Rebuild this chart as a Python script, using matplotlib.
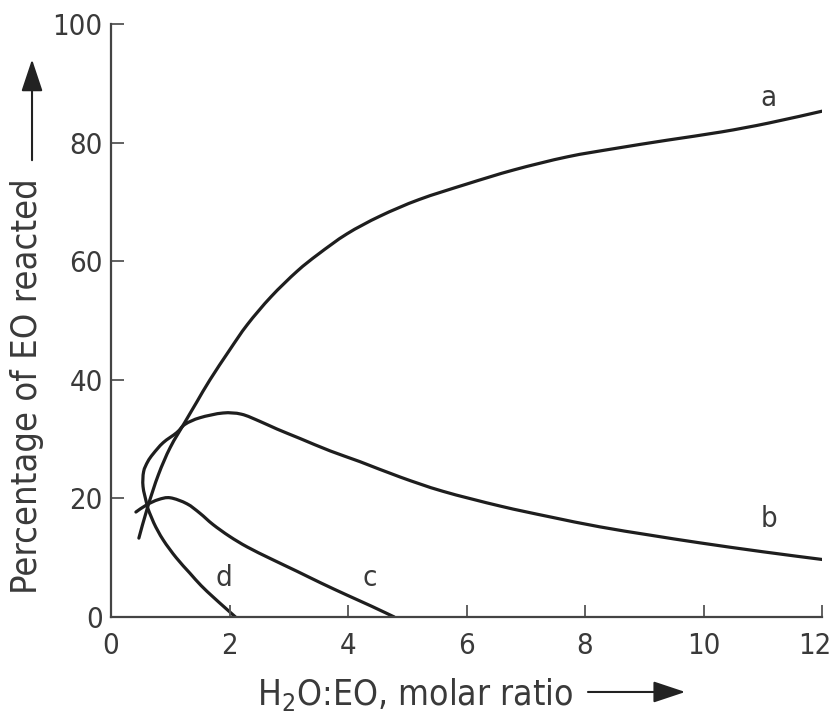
import matplotlib
matplotlib.use("Agg")
import matplotlib.pyplot as plt
from matplotlib.path import Path
from matplotlib.patches import PathPatch, FancyArrowPatch
from matplotlib.transforms import ScaledTranslation

plt.rcParams['font.family'] = ['Liberation Sans Narrow', 'DejaVu Sans']
plt.rcParams['font.stretch'] = 'condensed'

# curve data (H2O:EO ratio, % EO reacted)
a_x = [0.47, 0.62, 0.8, 1.0, 1.25, 1.45, 1.67, 2.0, 2.3, 2.7, 3.14, 3.5, 3.98, 4.54, 5.2, 6.0, 6.8, 7.7, 8.5, 9.38, 10.3, 11.1, 12.0]
a_y = [13.3, 18.6, 24.0, 28.6, 32.9, 36.3, 40.0, 45.0, 49.3, 54.0, 58.3, 61.2, 64.6, 67.6, 70.4, 73.0, 75.4, 77.6, 79.0, 80.4, 81.8, 83.3, 85.3]

b_x = [0.6, 0.54, 0.55, 0.62, 0.71, 0.88, 1.11, 1.25, 1.5, 1.89, 2.2, 2.51, 2.8, 3.19, 3.7, 4.2, 4.88, 5.6, 6.57, 7.4, 8.25, 9.1, 9.94, 11.0, 12.0]
b_y = [19.2, 22.0, 24.5, 26.2, 27.5, 29.4, 31.1, 32.5, 33.6, 34.4, 34.2, 33.0, 31.7, 30.1, 28.0, 26.2, 23.6, 21.2, 18.7, 16.9, 15.2, 13.8, 12.5, 11.0, 9.7]

c_x = [0.42, 0.6, 0.8, 1.0, 1.28, 1.5, 1.72, 2.0, 2.3, 2.7, 3.14, 3.55, 3.98, 4.4, 4.78]
c_y = [17.7, 18.9, 19.8, 20.1, 19.1, 17.5, 15.6, 13.6, 11.8, 9.8, 7.7, 5.7, 3.7, 1.8, 0.0]

d_x = [0.6, 0.72, 0.88, 1.1, 1.33, 1.52, 1.72, 1.92, 2.1]
d_y = [18.9, 15.9, 13.0, 10.0, 7.4, 5.3, 3.4, 1.6, 0.0]

curve_labels = ['a', 'b', 'c', 'd']
label_x = [11.1, 11.1, 4.37, 1.9]
label_y = [87.5, 16.5, 6.5, 6.5]

xticks = [0, 2, 4, 6, 8, 10, 12]
yticks = [0, 20, 40, 60, 80, 100]

ink = '#1e1e1e'
txt = '#3a3a3a'


def smooth(xs, ys):
    # Catmull-Rom through the read points, drawn as cubic Bezier segments
    pts = list(zip(xs, ys))
    verts = [pts[0]]
    codes = [Path.MOVETO]
    for i in range(len(pts) - 1):
        p0 = pts[max(i - 1, 0)]
        p1 = pts[i]
        p2 = pts[i + 1]
        p3 = pts[min(i + 2, len(pts) - 1)]
        c1 = (p1[0] + (p2[0] - p0[0]) / 6, p1[1] + (p2[1] - p0[1]) / 6)
        c2 = (p2[0] - (p3[0] - p1[0]) / 6, p2[1] - (p3[1] - p1[1]) / 6)
        verts += [c1, c2, p2]
        codes += [Path.CURVE4] * 3
    return Path(verts, codes)


fig = plt.figure(figsize=(8.36, 7.17), dpi=100)
ax = fig.add_axes([0.1328, 0.1395, 0.8505, 0.827])

for xs, ys in [(a_x, a_y), (b_x, b_y), (c_x, c_y), (d_x, d_y)]:
    ax.add_patch(PathPatch(smooth(xs, ys), fill=False, edgecolor=ink, lw=2.3,
                           capstyle='round', joinstyle='round'))

for lab, lx, ly in zip(curve_labels, label_x, label_y):
    ax.text(lx, ly, lab, fontsize=21, color=txt, ha='center', va='center')

ax.set_xlim(0, 12)
ax.set_ylim(0, 100)
ax.set_xticks(xticks)
ax.set_yticks(yticks)
ax.tick_params(direction='in', length=9, width=1.3, colors='#555555',
               labelsize=21, labelcolor=txt)
ax.tick_params(axis='x', pad=11)
ax.tick_params(axis='y', pad=6)
for s in ['top', 'right']:
    ax.spines[s].set_visible(False)
for s in ['left', 'bottom']:
    ax.spines[s].set_linewidth(1.6)
    ax.spines[s].set_color('#444444')

# keep the last x label inside the canvas
last = ax.get_xticklabels()[-1]
last.set_transform(last.get_transform() + ScaledTranslation(-5 / 72, 0, fig.dpi_scale_trans))

# axis titles with arrows
fig.text(0.032, 0.462, 'Percentage of EO reacted', rotation=90, fontsize=26,
         color=txt, ha='center', va='center')
fig.text(0.4964, 0.0167, 'H$_2$O:EO, molar ratio', fontsize=25.5,
         color=txt, ha='center', va='baseline')
fig.add_artist(FancyArrowPatch(
    (0.0383, 0.7727), (0.0383, 0.921), transform=fig.transFigure,
    arrowstyle='-|>,head_length=0.9,head_width=0.3', mutation_scale=22,
    color='#222222', lw=1.5))
fig.add_artist(FancyArrowPatch(
    (0.70, 0.0349), (0.823, 0.0349), transform=fig.transFigure,
    arrowstyle='-|>,head_length=0.9,head_width=0.3', mutation_scale=22,
    color='#222222', lw=1.5))

fig.savefig('out.png', dpi=100)
